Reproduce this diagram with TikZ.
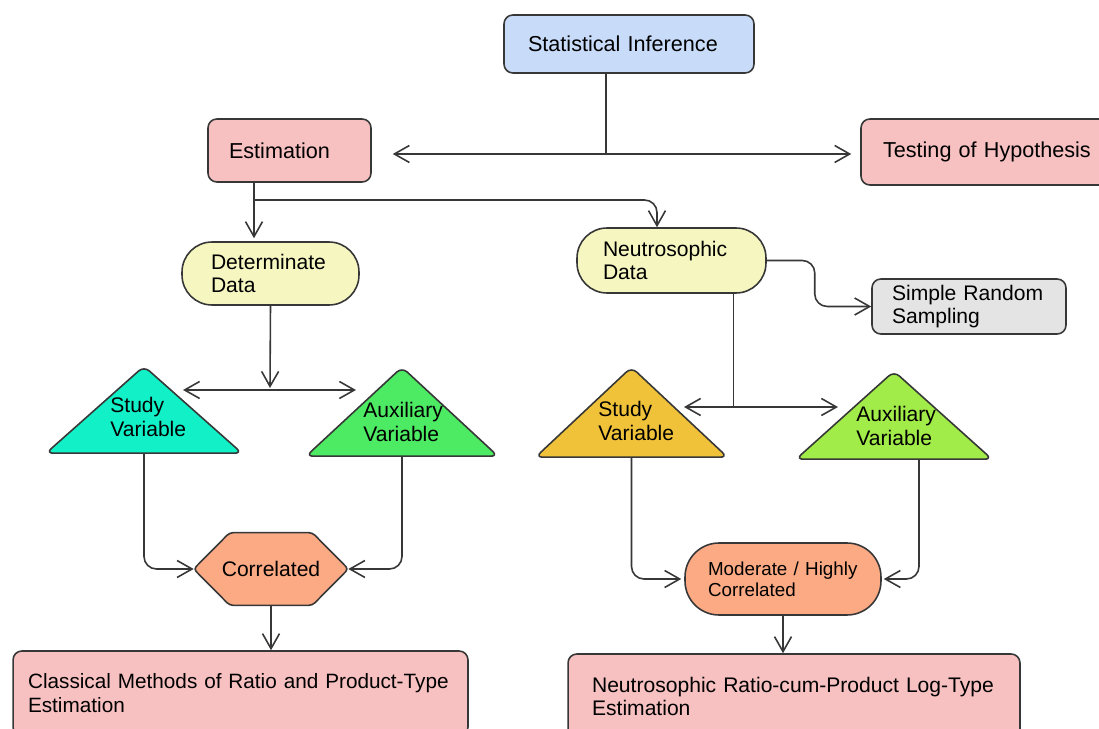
\documentclass[tikz,border=0pt]{standalone}
\usepackage{fontspec}
\setmainfont{Liberation Sans}
\usetikzlibrary{arrows.meta,shapes.geometric,backgrounds}

\definecolor{infblue}{RGB}{200,220,250}
\definecolor{boxpink}{RGB}{247,193,193}
\definecolor{datayellow}{RGB}{245,246,192}
\definecolor{srsgray}{RGB}{228,228,228}
\definecolor{studycyan}{RGB}{18,240,200}
\definecolor{auxgreen}{RGB}{77,235,99}
\definecolor{studyorange}{RGB}{240,194,58}
\definecolor{auxlime}{RGB}{161,236,72}
\definecolor{corrsalmon}{RGB}{251,170,132}
\definecolor{inkgray}{RGB}{55,55,55}

\tikzset{
  box/.style={draw=inkgray, line width=0.9pt, rounded corners=5pt, align=left, inner ysep=0pt},
  pill/.style={box, rounded corners=0.6cm},
  tri/.style={draw=inkgray, line width=0.9pt, isosceles triangle, isosceles triangle stretches,
    shape border rotate=90, rounded corners=4pt, inner sep=0pt, anchor=south},
  lbl/.style={align=left, inner sep=0pt, anchor=west},
  link/.style={draw=inkgray, line width=0.9pt, rounded corners=0.25cm},
  arr/.style={link, -{Straight Barb[length=3mm,width=3.4mm]}},
  dbl/.style={link, {Straight Barb[length=3mm,width=3.4mm]}-{Straight Barb[length=3mm,width=3.4mm]}},
  big/.style={font=\fontsize{12.3}{13.6}\selectfont},
}

\begin{document}
\begin{tikzpicture}[x=0.02cm, y=-0.02cm, font=\fontsize{12}{13.6}\selectfont]
\useasboundingbox (0,0) rectangle (1099,729);

% top level
\node[box, big, fill=infblue, text width=4.04cm, inner xsep=0.48cm, minimum height=1.16cm] (inference) at (629,44) {Statistical Inference};
\node[box, big, fill=boxpink, text width=2.42cm, inner xsep=0.42cm, minimum height=1.26cm] (estim) at (289.5,150.5) {Estimation};
\node[box, big, fill=boxpink, text width=4.36cm, inner xsep=0.44cm, minimum height=1.32cm] (testing) at (992,152) {Testing of Hypothesis};

% data
\node[pill, fill=datayellow, text width=2.38cm, inner xsep=0.58cm, minimum height=1.26cm] (detdata) at (270.5,273.5) {Determinate\\Data};
\node[pill, fill=datayellow, text width=2.74cm, inner xsep=0.52cm, minimum height=1.3cm] (neutdata) at (671.5,260.5) {Neutrosophic\\Data};
\node[box, fill=srsgray, text width=3.08cm, inner xsep=0.4cm, minimum height=1.1cm] (srs) at (969,306.5) {Simple Random\\Sampling};

% variables
\node[tri, fill=studycyan, minimum width=3.92cm, minimum height=1.74cm] (studyL) at (144,454) {};
\node[lbl] (studyLtxt) at (110,417) {Study\\Variable};
\node[tri, fill=auxgreen, minimum width=3.84cm, minimum height=1.78cm] (auxL) at (402,457) {};
\node[lbl] (auxLtxt) at (363,422) {Auxiliary\\Variable};
\node[tri, fill=studyorange, minimum width=3.84cm, minimum height=1.8cm] (studyR) at (631.5,458) {};
\node[lbl] (studyRtxt) at (598,421) {Study\\Variable};
\node[tri, fill=auxlime, minimum width=3.92cm, minimum height=1.76cm] (auxR) at (894,460) {};
\node[lbl] (auxRtxt) at (856,426) {Auxiliary\\Variable};

% correlation
\node[minimum width=3.08cm, minimum height=1.44cm] (correl) at (271,569) {Correlated};
\begin{scope}[on background layer]
\draw[draw=inkgray, line width=0.9pt, fill=corrsalmon, rounded corners=2pt] (correl.west)
  -- ([xshift=0.72cm]correl.north west) -- ([xshift=-0.72cm]correl.north east) -- (correl.east)
  -- ([xshift=-0.72cm]correl.south east) -- ([xshift=0.72cm]correl.south west) -- cycle;
\end{scope}
\node[pill, fill=corrsalmon, rounded corners=0.68cm, text width=3cm, inner xsep=0.46cm, minimum height=1.44cm,
  font=\fontsize{10.7}{12}\selectfont] (moder) at (783,579) {Moderate / Highly\\Correlated};

% estimators
\node[box, fill=boxpink, text width=8.5cm, inner xsep=0.3cm, minimum height=1.7cm,
  font=\fontsize{11.8}{13.6}\selectfont] (classic) at (240.5,693.5) {Classical Methods of Ratio and Product-Type\\Estimation};
\node[box, fill=boxpink, text width=8.08cm, inner xsep=0.48cm, minimum height=1.7cm] (neutratio) at (794,696.5) {Neutrosophic Ratio-cum-Product Log-Type\\Estimation};

% connectors
\coordinate (split0) at (606,154);
\draw[link] (split0 |- inference.south) -- (split0);
\draw[arr] (split0) -- ([xshift=0.42cm]estim.east |- split0);
\draw[arr] (split0) -- ([xshift=-0.18cm]testing.west |- split0);

\coordinate (split1) at (254,200);
\coordinate (bend1) at (657,200);
\draw[arr] (split1 |- estim.south) -- ([yshift=0.06cm]split1 |- detdata.north);
\draw[arr] (split1) -- (bend1) -- (bend1 |- neutdata.north);
\draw[arr] (neutdata.east) -- ++(48,0) |- (srs.west);

\coordinate (split2) at (270,390);
\draw[arr] (detdata.south) -- ([yshift=0.04cm]split2);
\draw[dbl] ([xshift=-1.74cm]split2) -- ([xshift=1.72cm]split2);

\coordinate (split3) at (733.5,407);
\draw[link] (split3 |- neutdata.south) -- (split3);
\draw[dbl] ([xshift=-0.99cm]split3) -- ([xshift=2.09cm]split3);

\draw[arr] (studyL.south) |- (correl.west);
\draw[arr] (auxL.south) |- (correl.east);
\draw[arr] (correl.south) -- (correl.south |- classic.north);
\draw[arr] (studyR.south) |- ([xshift=-0.06cm]moder.west);
\draw[arr] ([xshift=0.5cm]auxR.south) |- ([xshift=0.04cm]moder.east);
\draw[arr] (moder.south) -- (moder.south |- neutratio.north);
\end{tikzpicture}
\end{document}
